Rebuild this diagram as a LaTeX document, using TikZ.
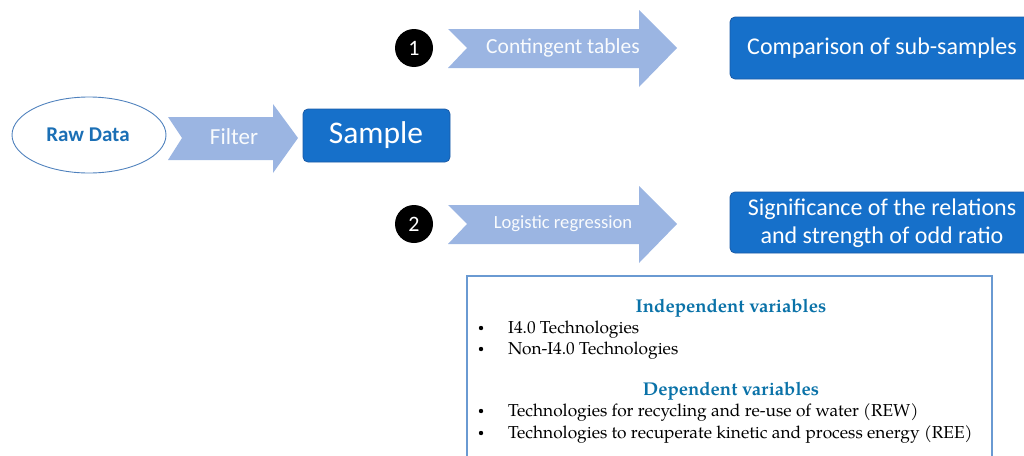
\documentclass[tikz,border=0pt]{standalone}
\usepackage{fontspec}
\setmainfont{Carlito}
\newfontfamily\pal{TeX Gyre Pagella}
\definecolor{arrowfill}{HTML}{9BB5E2}
\definecolor{boxfill}{HTML}{1670CA}
\definecolor{boxedge}{HTML}{1A5AA6}
\definecolor{elledge}{HTML}{4F81BD}
\definecolor{rawtext}{HTML}{1B6FB5}
\definecolor{headcol}{HTML}{0A72A8}
\definecolor{panel}{HTML}{6A9AD2}
\begin{document}
\begin{tikzpicture}[x=1pt,y=-1pt,
  bluebox/.style={draw=boxedge,line width=0.8pt,fill=boxfill,rounded corners=5pt},
  chev/.style={fill=arrowfill,draw=none},
  chevtext/.style={text=white!94!arrowfill,font=\fontsize{21.5}{24}\selectfont},
  boxtext/.style={text=white,align=center},
  numdot/.style={circle,fill=black,minimum size=38pt,inner sep=0pt,text=white,font=\fontsize{22}{24}\selectfont},
  bul/.style={anchor=base west,inner sep=0pt,font=\pal\fontsize{17.3}{20}\selectfont},
  bdot/.style={circle,fill=black,inner sep=0pt,minimum size=4.4pt},
  heading/.style={anchor=base,text=headcol,font=\pal\bfseries\fontsize{18.5}{22}\selectfont}]
\useasboundingbox (0,0) rectangle (1024,455);
% Raw data ellipse
\draw[elledge,line width=0.9pt] (89,135) ellipse [x radius=77,y radius=38];
\node[text=rawtext,font=\bfseries\fontsize{21}{24}\selectfont] (raw) at (88,135) {Raw Data};
% Filter arrow
\path[chev] (168,117) -- (273,117) -- (273,104) -- (298,138) -- (273,173) -- (273,160) -- (168,160) -- (182,138) -- cycle;
\node[chevtext,font=\fontsize{23}{26}\selectfont] (filter) at (234,137) {Filter};
% Sample box
\draw[bluebox] (303,109) rectangle (450,162);
\node[boxtext,font=\fontsize{31.5}{34}\selectfont] (sample) at (376,135) {Sample};
% Row 1
\node[numdot] (n1) at (414,48) {1};
\path[chev] (448,29) -- (639,29) -- (639,10) -- (677,48) -- (639,87) -- (639,68) -- (448,68) -- (467,48) -- cycle;
\node[chevtext] (ct) at (563,48) {Contingent tables};
\draw[bluebox] (730,17) rectangle (1040,79);
\node[boxtext,font=\fontsize{24}{28}\selectfont] (comp) at (882,48) {Comparison of sub-samples};
% Row 2
\node[numdot] (n2) at (414,224) {2};
\path[chev] (448,205) -- (639,205) -- (639,186) -- (677,224) -- (639,263) -- (639,244) -- (448,244) -- (467,224) -- cycle;
\node[chevtext,font=\fontsize{18.6}{21}\selectfont] (lr) at (563,224) {Logistic regression};
\draw[bluebox] (730,192) rectangle (1040,253);
\node[boxtext,font=\fontsize{24}{28}\selectfont] (sig) at (882,223) {Significance of the relations\\and strength of odd ratio};
% Variables panel
\draw[panel,line width=1.3pt] (467,276) rectangle (992,470);
\node[heading] (ind) at (731,312) {Independent variables};
\node[bdot] (d1) at (481,328) {};
\node[bul] (b1) at (508,333) {I4.0 Technologies};
\node[bdot] (d2) at (481,349) {};
\node[bul] (b2) at (508,354) {Non-I4.0 Technologies};
\node[heading] (dep) at (731,395) {Dependent variables};
\node[bdot] (d3) at (481,411) {};
\node[bul] (b3) at (508,416) {Technologies for recycling and re-use of water (REW)};
\node[bdot] (d4) at (481,433) {};
\node[bul] (b4) at (508,438) {Technologies to recuperate kinetic and process energy (REE)};
\end{tikzpicture}
\end{document}
